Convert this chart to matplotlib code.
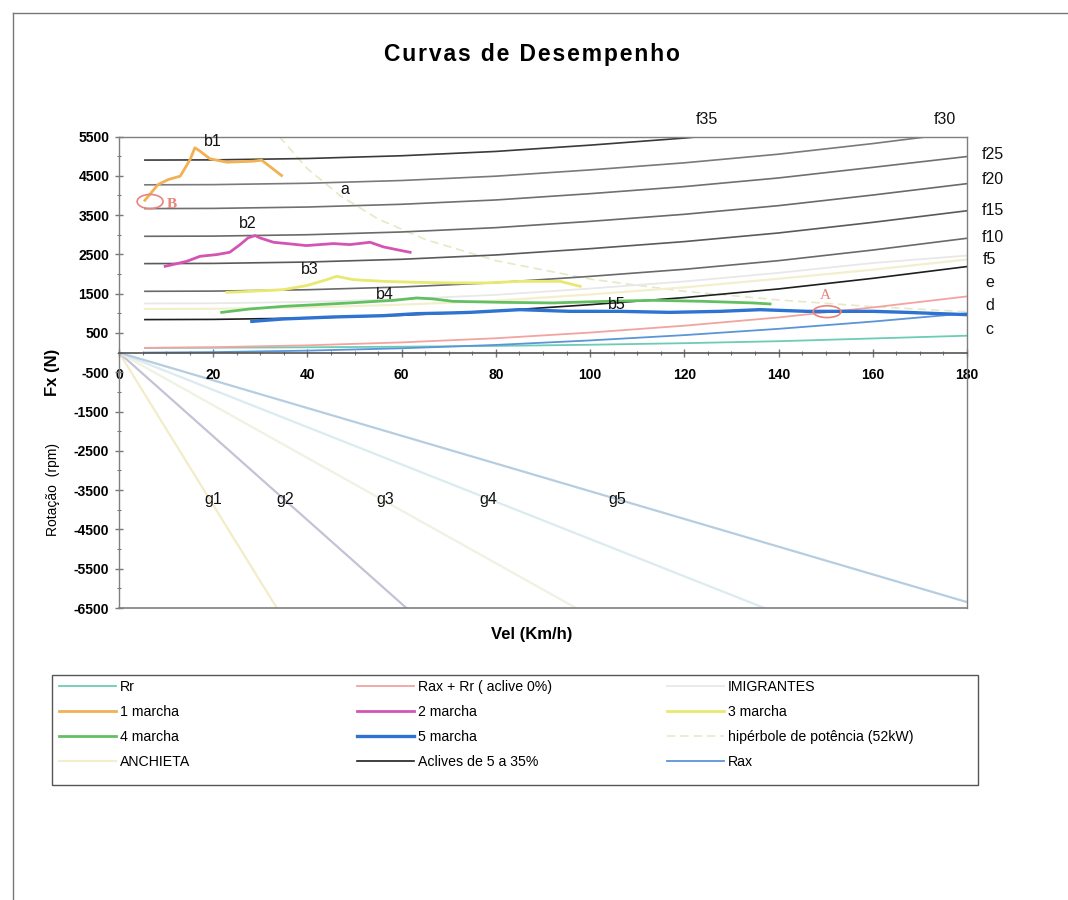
import matplotlib
matplotlib.use("Agg")
import matplotlib.pyplot as plt
from matplotlib.patches import Ellipse, Rectangle
from matplotlib.lines import Line2D
from matplotlib.ticker import MultipleLocator, FixedLocator

plt.rcParams['font.family'] = ['Liberation Sans', 'DejaVu Sans']

# ---------------- data ----------------
v_res = [5.5, 20, 40, 60, 80, 100, 120, 140, 160, 180]
rr = [120, 125, 135, 150, 170, 200, 240, 290, 360, 430]
rax = [0, 12, 50, 110, 195, 310, 445, 605, 790, 1000]
rax_rr = [120, 137, 185, 260, 365, 510, 685, 895, 1150, 1430]

anchieta = [1110, 1115, 1150, 1220, 1320, 1480, 1660, 1880, 2110, 2370]
imigrantes = [1250, 1255, 1290, 1360, 1470, 1630, 1810, 2030, 2280, 2470]

f5 = [840, 845, 880, 950, 1060, 1220, 1400, 1620, 1890, 2190]
f10 = [1560, 1565, 1600, 1670, 1780, 1940, 2120, 2340, 2610, 2910]
f15 = [2265, 2270, 2305, 2375, 2485, 2645, 2825, 3045, 3315, 3610]
f20 = [2960, 2965, 3000, 3070, 3180, 3340, 3520, 3740, 4010, 4300]
f25 = [3665, 3670, 3705, 3775, 3885, 4045, 4225, 4445, 4715, 4990]
f30 = [4270, 4275, 4310, 4380, 4490, 4650, 4830, 5050, 5320, 5620]
f35 = [4900, 4905, 4940, 5010, 5120, 5280, 5460, 5680, 5950, 6250]

m1_v = [5.5, 8.3, 10.5, 13.0, 15.1, 16.1, 17.2, 19.3, 22.9, 28.5, 30.3, 34.5]
m1_f = [3878, 4278, 4406, 4490, 4915, 5213, 5127, 4933, 4846, 4872, 4897, 4507]

m2_v = [9.8, 14.4, 17.2, 20.7, 23.5, 25.7, 27.4, 28.9, 29.9, 32.8, 35.6, 39.8, 45.5, 49.0, 53.3, 56.1, 59.6, 61.8]
m2_f = [2196, 2324, 2451, 2494, 2553, 2749, 2920, 2979, 2920, 2808, 2775, 2724, 2775, 2749, 2808, 2691, 2604, 2553]

m3_v = [22.9, 27.8, 34.9, 39.8, 44.1, 46.2, 49.7, 56.1, 63.2, 70.9, 78.0, 85.1, 93.6, 97.9]
m3_f = [1534, 1559, 1603, 1705, 1857, 1942, 1857, 1814, 1789, 1773, 1773, 1814, 1814, 1687]

m4_v = [21.8, 27.8, 34.9, 42.0, 49.0, 54.7, 58.3, 63.2, 66.7, 70.9, 81.5, 92.1, 103.5, 113.4, 124.0, 134.6, 138.2]
m4_f = [1024, 1111, 1177, 1220, 1264, 1305, 1330, 1391, 1366, 1305, 1279, 1264, 1305, 1330, 1305, 1264, 1238]

m5_v = [28.2, 34.9, 45.5, 56.1, 63.2, 70.3, 74.5, 85.1, 95.7, 106.3, 116.9, 127.6, 136.1, 146.0, 160.1, 167.2, 174.3, 180]
m5_f = [795, 856, 907, 940, 991, 1009, 1024, 1093, 1050, 1050, 1024, 1050, 1093, 1050, 1050, 1024, 991, 966]

hip_v = [34, 40, 47, 55, 65, 80, 100, 120, 140, 160, 180]
hip_f = [5500, 4680, 3990, 3400, 2880, 2340, 1870, 1560, 1340, 1170, 1040]

g_names = ['g1', 'g2', 'g3', 'g4', 'g5']
g_end_vel = [33.5, 61, 97, 137, 180]
g_end_rpm = [-6500, -6500, -6500, -6500, -6350]
g_colors = ['#F2EDC8', '#C6C2D6', '#EEF2E2', '#DCEBEF', '#B6CDE1']

xticks = [0, 20, 40, 60, 80, 100, 120, 140, 160, 180]
yticks = [5500, 4500, 3500, 2500, 1500, 500, -500, -1500, -2500, -3500, -4500, -5500, -6500]

# ---------------- figure ----------------
fig = plt.figure(figsize=(10.68, 9.0), dpi=100)
ax = fig.add_axes([119/1068, 1-608/900, (967-119)/1068, (608-136.5)/900])
ax.set_xlim(0, 180)
ax.set_ylim(-6500, 5500)

# rotation lines
for name, ve, re_, c in zip(g_names, g_end_vel, g_end_rpm, g_colors):
    ax.plot([0, ve], [0, re_], color=c, lw=1.6, zorder=1)

h_rr, = ax.plot(v_res, rr, color='#6CCDB4', lw=1.3, label='Rr')
h_raxrr, = ax.plot(v_res, rax_rr, color='#F2A4A0', lw=1.3, label='Rax + Rr ( aclive 0%)')
h_imi, = ax.plot(v_res, imigrantes, color='#E8E8E8', lw=1.3, label='IMIGRANTES')
h_anc, = ax.plot(v_res, anchieta, color='#F2F0CC', lw=1.6, label='ANCHIETA')
h_rax, = ax.plot(v_res, rax, color='#5A95D8', lw=1.3, label='Rax')

acl_sets = [f5, f10, f15, f20, f25, f30, f35]
acl_cols = ['#1E1E1E', '#6A6A6A', '#5A5A5A', '#6A6A6A', '#707070', '#7A7A7A', '#3A3A3A']
h_acl = None
for vals, c in zip(acl_sets, acl_cols):
    h, = ax.plot(v_res, vals, color=c, lw=1.2, zorder=2)
    if h_acl is None:
        h_acl = h
h_acl.set_label('Aclives de 5 a 35%')

h_hip, = ax.plot(hip_v, hip_f, color='#E6E9C6', lw=1.2, ls=(0, (5, 3)),
                 label='hipérbole de potência (52kW)', zorder=1.5)

h_m4, = ax.plot(m4_v, m4_f, color='#62C063', lw=2.0, label='4 marcha', zorder=3)
h_m3, = ax.plot(m3_v, m3_f, color='#E9E870', lw=2.0, label='3 marcha', zorder=3)
h_m5, = ax.plot(m5_v, m5_f, color='#2F73D2', lw=2.4, label='5 marcha', zorder=3)
h_m2, = ax.plot(m2_v, m2_f, color='#D454B4', lw=2.0, label='2 marcha', zorder=3)
h_m1, = ax.plot(m1_v, m1_f, color='#F2B155', lw=2.0, label='1 marcha', zorder=3)

# axes styling
for s in ['top', 'right', 'left']:
    ax.spines[s].set_color('#7F7F7F')
    ax.spines[s].set_linewidth(1.0)
ax.spines['bottom'].set_position(('data', 0))
ax.spines['bottom'].set_color('#555555')
ax.spines['bottom'].set_linewidth(1.2)
ax.plot([0, 1], [0, 0], transform=ax.transAxes, color='#7F7F7F', lw=1.2, clip_on=False)

ax.xaxis.set_major_locator(FixedLocator(xticks))
ax.xaxis.set_minor_locator(MultipleLocator(5))
ax.yaxis.set_major_locator(FixedLocator(yticks))
ax.yaxis.set_minor_locator(MultipleLocator(500))
ax.tick_params(axis='both', which='major', direction='inout', length=6, width=1, color='#777777',
               labelsize=10)
ax.tick_params(axis='both', which='minor', direction='inout', length=3, width=0.8, color='#777777')
ax.tick_params(axis='x', which='major', pad=8)
ax.tick_params(axis='y', which='major', pad=4)
ax.set_xticklabels([str(t) for t in xticks], fontweight='bold')
ax.set_yticklabels([str(t) for t in yticks], fontweight='bold')

# annotations
txt_kw = dict(fontsize=11.5, color='#111111', ha='center', va='center')
ax.text(20.0, 5374, 'b1', **txt_kw)
ax.text(27.4, 3284, 'b2', **txt_kw)
ax.text(40.5, 2112, 'b3', **txt_kw)
ax.text(56.5, 1475, 'b4', **txt_kw)
ax.text(105.7, 1220, 'b5', **txt_kw)
ax.text(48.0, 4150, 'a', **txt_kw)

for lab, xx, yy in [('f35', 124.8, 5930), ('f30', 175.3, 5930), ('f25', 185.5, 5043),
                    ('f20', 185.5, 4406), ('f15', 185.5, 3616), ('f10', 185.5, 2928),
                    ('f5', 184.8, 2367), ('e', 184.8, 1781), ('d', 184.8, 1195), ('c', 184.8, 584)]:
    ax.text(xx, yy, lab, fontsize=11.5, color='#111111', ha='center', va='center', clip_on=False)

for name, xx in zip(g_names, [20.0, 35.2, 56.5, 78.3, 105.7]):
    ax.text(xx, -3748, name, **txt_kw)

ax.add_patch(Ellipse((150.3, 1042), 5.9, 300, fill=False, edgecolor='#E8847C', lw=1.2, zorder=4))
ax.text(149.9, 1450, 'A', fontsize=11, color='#E8847C', ha='center', va='center', family='Liberation Serif')
ax.add_patch(Ellipse((6.6, 3845), 5.5, 360, fill=False, edgecolor='#E8847C', lw=1.2, zorder=4))
ax.text(11.3, 3770, 'B', fontsize=11, color='#E8847C', ha='center', va='center',
        family='Liberation Serif', fontweight='bold')

# titles and labels
title = '\u200a'.join('Curvas de Desempenho')
fig.text(532/1068, 1-55/900, title, fontsize=16.5, fontweight='bold',
         ha='center', va='center')
fig.text(532/1068, 1-635/900, 'Vel (Km/h)', fontsize=12, fontweight='bold', ha='center', va='center')
fig.text(53/1068, 1-372/900, 'Fx (N)', fontsize=12, fontweight='bold', rotation=90,
         ha='center', va='center')
fig.text(53/1068, 1-490/900, 'Rotação  (rpm)', fontsize=10, rotation=90, ha='center', va='center')

# legend: three columns placed separately, shared frame
cols = [[h_rr, h_m1, h_m4, h_anc],
        [h_raxrr, h_m2, h_m5, h_acl],
        [h_imi, h_m3, h_hip, h_rax]]
col_x = [59, 357, 667]
for hs, cx in zip(cols, col_x):
    lg = fig.legend(hs, [h.get_label() for h in hs], loc='upper left',
                    bbox_to_anchor=(cx/1068, 1-680/900), fontsize=10.2,
                    handlelength=4.0, handletextpad=0.3, labelspacing=0.78,
                    borderpad=0.0, borderaxespad=0.0, frameon=False)
fig.add_artist(Rectangle((52/1068, 1-785/900), 926/1068, 110/900, transform=fig.transFigure,
                         fill=False, edgecolor='#555555', lw=1.0))

# outer border
fig.add_artist(Line2D([13/1068, 1.0], [1-13/900, 1-13/900], color='#777777', lw=1.0))
fig.add_artist(Line2D([13/1068, 13/1068], [1-13/900, 0.0], color='#777777', lw=1.0))

fig.savefig('out.png', dpi=100)
